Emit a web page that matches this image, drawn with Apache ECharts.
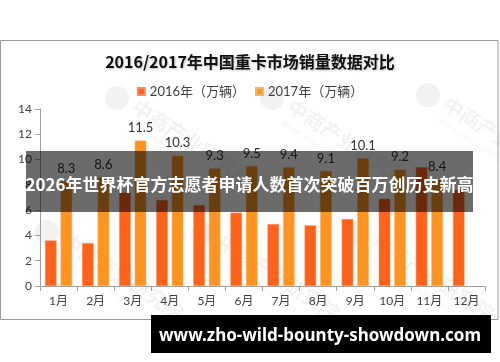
<!DOCTYPE html>
<html>
<head>
<meta charset="utf-8">
<script src="https://cdn.jsdelivr.net/npm/echarts@6/dist/echarts.min.js"></script>
<style>
html,body{margin:0;padding:0;background:#fff;}
#c{width:500px;height:362px;}
</style>
</head>
<body>
<div id="c"></div>
<script>
const titleText = '2016/2017年中国重卡市场销量数据对比';
const categories = ['1月','2月','3月','4月','5月','6月','7月','8月','9月','10月','11月','12月'];
const seriesNames = ['2016年（万辆）','2017年（万辆）'];
const sales2016 = [3.6, 3.4, 7.4, 6.8, 6.4, 5.8, 4.9, 4.8, 5.3, 6.9, 9.4, 7.6];
const sales2017 = [8.3, 8.6, 11.5, 10.3, 9.3, 9.5, 9.4, 9.1, 10.1, 9.2, 8.4, null];
const yTicks = {min: 0, max: 14, interval: 2};
const bannerText = '2026年世界杯官方志愿者申请人数首次突破百万创历史新高';
const footerText = 'www.zho-wild-bounty-showdown.com';
const wmName = '中商产业研究院';
const wmUrl = 'www.askci.com/reports';

const FONT = 'Lato, "Noto Sans CJK SC", sans-serif';
const chart = echarts.init(document.getElementById('c'), null, {renderer: 'canvas'});

function watermark(x, y) {
  return {
    type: 'group', x: x, y: y, rotation: -33 * Math.PI / 180, z: -5, silent: true,
    children: [
      {type: 'circle', shape: {cx: 0, cy: 0, r: 12}, style: {fill: 'rgba(0,0,0,0.05)'}},
      {type: 'text', x: 18, y: -14, style: {text: wmName, fill: 'rgba(0,0,0,0.05)', font: 'bold 20px "Noto Sans CJK SC"'}},
      {type: 'text', x: 22, y: 10, style: {text: wmUrl, fill: 'rgba(0,0,0,0.05)', font: '9px "Noto Sans"'}}
    ]
  };
}
const wmPositions = [[117, 98], [272, 98], [428, 95], [47, 232], [203, 233], [357, 233]];
const graphics = wmPositions.map(p => watermark(p[0], p[1]));
// chart frame
graphics.push({type: 'rect', shape: {x: 0.5, y: 40.5, width: 497.5, height: 279}, style: {fill: 'none', stroke: '#9a9a9a', lineWidth: 1}, z: 0, silent: true});
// overlay banner
graphics.push({type: 'rect', shape: {x: 26, y: 151, width: 447, height: 61}, style: {fill: 'rgba(0,0,0,0.58)'}, z: 100, silent: true});
graphics.push({type: 'text', x: 249.5, y: 185, style: {text: bannerText, fill: '#fff', font: 'bold 17px "Noto Sans CJK SC"', textAlign: 'center', textVerticalAlign: 'middle'}, z: 101, silent: true});
// footer banner
graphics.push({type: 'rect', shape: {x: 151, y: 315, width: 340, height: 38}, style: {fill: '#000'}, z: 100, silent: true});
graphics.push({type: 'text', x: 320, y: 336, style: {text: footerText, fill: '#fff', font: 'bold 17px "Noto Sans"', textAlign: 'center', textVerticalAlign: 'middle'}, z: 101, silent: true});

const option = {
  animation: false,
  backgroundColor: '#fff',
  textStyle: {fontFamily: FONT},
  title: {
    text: titleText, left: 'center', top: 49,
    textStyle: {fontSize: 16, fontWeight: 'bold', color: '#111', fontFamily: '"Noto Sans CJK SC"',
      textShadowColor: 'rgba(0,0,0,0.25)', textShadowBlur: 2, textShadowOffsetX: 1, textShadowOffsetY: 1}
  },
  legend: {
    data: seriesNames, top: 80, left: 'center', itemWidth: 7, itemHeight: 7, itemGap: 10,
    icon: 'rect',
    textStyle: {fontSize: 13, color: '#404040', fontFamily: FONT}
  },
  grid: {left: 40, right: 15, top: 109, bottom: 76, containLabel: false},
  xAxis: {
    type: 'category', data: categories,
    axisLine: {lineStyle: {color: '#a0a0a0'}},
    axisTick: {show: true, alignWithLabel: false, length: 5, lineStyle: {color: '#a0a0a0'}},
    axisLabel: {fontSize: 12, color: '#404040', margin: 9, fontFamily: FONT}
  },
  yAxis: {
    type: 'value', min: yTicks.min, max: yTicks.max, interval: yTicks.interval,
    axisLine: {show: true, lineStyle: {color: '#a0a0a0'}},
    axisTick: {show: true, length: 5, lineStyle: {color: '#a0a0a0'}},
    splitLine: {show: false},
    axisLabel: {fontSize: 12, color: '#404040', margin: 8, fontFamily: FONT}
  },
  series: [
    {name: seriesNames[0], type: 'bar', data: sales2016, barGap: '35%', barCategoryGap: '27%',
     itemStyle: {color: '#FF6319', borderColor: '#FF8A5A', borderWidth: 0.5}},
    {name: seriesNames[1], type: 'bar', data: sales2017,
     itemStyle: {color: '#FF9420', borderColor: '#FFB060', borderWidth: 0.5},
     label: {show: true, position: 'top', distance: 6, fontSize: 13, color: '#333', fontFamily: FONT}}
  ],
  graphic: graphics
};
chart.setOption(option);
</script>
</body>
</html>
